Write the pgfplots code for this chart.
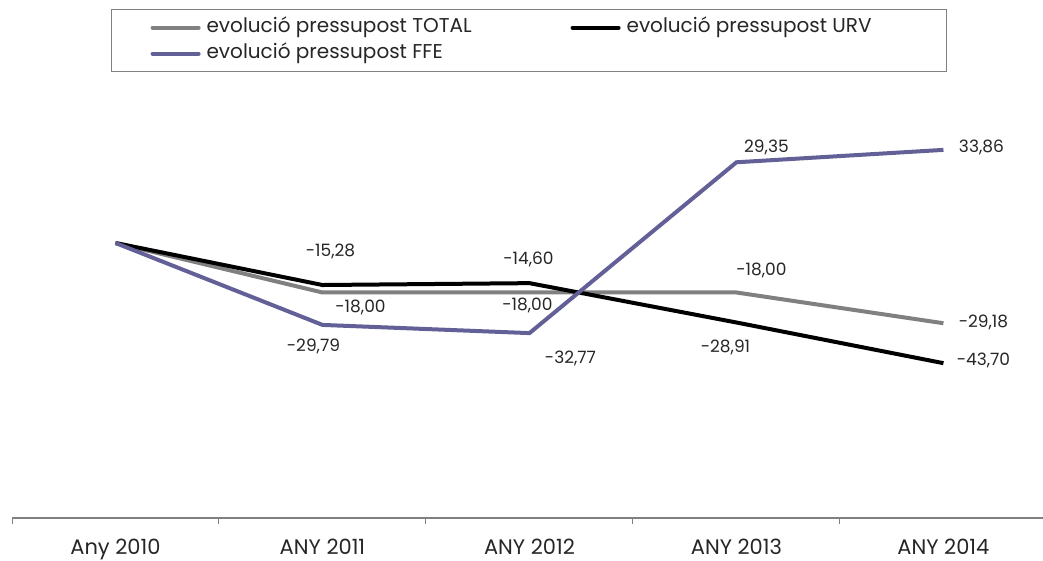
\documentclass[border=0pt]{standalone}
\usepackage{fontspec}
\setmainfont{Poppins}
\usepackage{pgfplots}
\usepackage{pgfplotstable}
\pgfplotsset{compat=1.18}

\definecolor{cTotal}{RGB}{128,128,128}
\definecolor{cUrv}{RGB}{0,0,0}
\definecolor{cFfe}{RGB}{98,96,150}

% x = category (0 = Any 2010), y = value, dx/dy = label offset in pt
\pgfplotstableread{
x y dx dy
0 0 0 0
1 -18.00 38 -15
2 -18.00 -2 -13
3 -18.00 25 22
4 -29.18 40 1
}\total
\pgfplotstableread{
x y dx dy
0 0 0 0
1 -15.28 8 34
2 -14.60 -1 24
3 -28.91 -11 -25
4 -43.70 40 3
}\urv
\pgfplotstableread{
x y dx dy
0 0 0 0
1 -29.79 -9 -22
2 -32.77 41 -25
3 29.35 30 15
4 33.86 38 2
}\ffe

\begin{document}
\begin{tikzpicture}[x=1pt,y=1pt]
\useasboundingbox (0,0) rectangle (1043,561);
\begin{axis}[
    at={(12pt,43pt)}, anchor=south west,
    scale only axis,
    width=1035pt, height=440pt,
    xmin=-0.5, xmax=4.5,
    ymin=-100, ymax=60,
    clip=false,
    hide y axis,
    axis x line=bottom,
    x axis line style={-, draw=cTotal, line width=1.3pt},
    xtick={0,...,4},
    xticklabels={Any 2010, ANY 2011, ANY 2012, ANY 2013, ANY 2014},
    major tick length=0pt,
    minor xtick={-0.5,0.5,...,4.5},
    minor tick length=6pt,
    tick align=outside,
    minor tick style={draw=cTotal, line width=1pt},
    xticklabel style={anchor=base, yshift=-37pt, font=\fontsize{21}{24}\selectfont, text=black!85},
    /pgf/number format/.cd, fixed, fixed zerofill, precision=2, use comma, assume math mode=true,
    /pgfplots/.cd,
    point meta=y,
    visualization depends on={\thisrow{x}\as\xval},
    visualization depends on={\thisrow{dx}\as\dx},
    visualization depends on={\thisrow{dy}\as\dy},
    nodes near coords={\ifdim\xval pt<0.5pt \else\pgfmathprintnumber{\pgfplotspointmeta}\fi},
    every node near coord/.append style={anchor=center, xshift=\dx pt, yshift=\dy pt,
        font=\fontsize{17}{20}\selectfont, text=black!85},
    legend columns=2,
    legend image code/.code={\draw[#1, line cap=round] (2pt,0pt) -- (48pt,0pt); \path (0pt,0pt) (50pt,0pt);},
    legend style={
        at={(axis description cs:0.09565,1.1568)}, anchor=north west,
        draw=cTotal, line width=1.2pt,
        inner xsep=37pt, inner ysep=9pt,
        row sep=8pt,
        nodes={inner sep=0pt, text height=14pt, text depth=4pt,
               font=\fontsize{20}{23}\selectfont, text=black!85},
        /tikz/every odd column/.append style={column sep=4pt},
        /tikz/every even column/.append style={column sep=0pt},
    },
]
\addplot[draw=cTotal, line width=4pt] table[x=x, y=y] {\total};
\addlegendentry{\makebox[362pt][l]{evolució pressupost TOTAL}}
\addplot[draw=cUrv, line width=4pt] table[x=x, y=y] {\urv};
\addlegendentry{\makebox[283pt][l]{evolució pressupost URV}}
\addplot[draw=cFfe, line width=4pt] table[x=x, y=y] {\ffe};
\addlegendentry{\makebox[362pt][l]{evolució pressupost FFE}}
\end{axis}
\end{tikzpicture}
\end{document}
